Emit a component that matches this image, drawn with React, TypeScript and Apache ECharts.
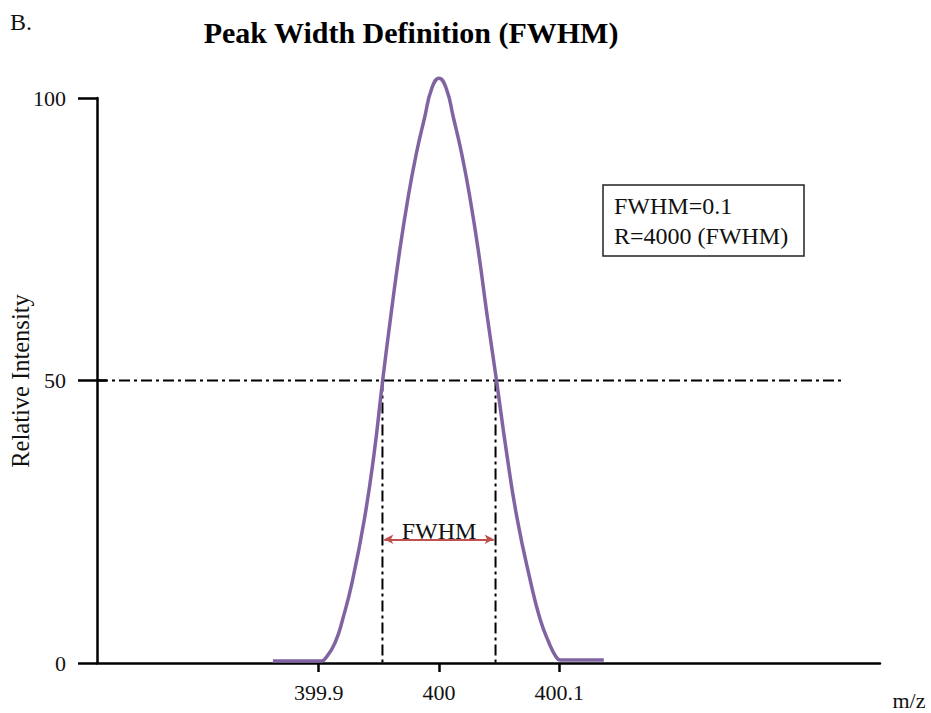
import React, { useEffect, useRef } from "react";
import * as echarts from "echarts";

// Peak profile (m/z, relative intensity)
const peakMz = [
  399.862, 399.901, 399.907, 399.914, 399.92, 399.928, 399.938, 399.946, 399.953, 399.96,
  399.967, 399.974, 399.981, 399.988, 399.994, 400.0, 400.006, 400.012, 400.019, 400.026,
  400.033, 400.04, 400.048, 400.056, 400.065, 400.076, 400.084, 400.091, 400.097, 400.101,
  400.137,
];
const peakIntensity = [
  0.35, 0.35, 1.2, 3.8, 7.8, 14.5, 25.5, 37.0, 49.7, 61.5,
  72.5, 82.0, 90.0, 96.5, 101.7, 103.5, 101.7, 96.5, 90.0, 82.0,
  72.5, 61.5, 49.7, 37.5, 25.5, 14.5, 7.8, 3.8, 1.2, 0.53,
  0.53,
];

const xTicks = [399.9, 400, 400.1];
const xTickLabels = ["399.9", "400", "400.1"];
const yTicks = [0, 50, 100];
const yTickLabels = ["0", "50", "100"];

const xMin = 399.7157;
const xMax = 400.3666;
const halfLevel = 50;
const halfLineEnd = 400.3375;
const fwhmLeft = 399.953;
const fwhmRight = 400.047;
const arrowLevel = 21.9;

const title = "Peak Width Definition (FWHM)";
const boxLines = ["FWHM=0.1", "R=4000 (FWHM)"];

const FONT = "'Liberation Serif', 'Times New Roman', serif";

export default function App() {
  const ref = useRef<HTMLDivElement>(null);
  useEffect(() => {
    if (!ref.current) return;
    const chart = echarts.init(ref.current, undefined, { renderer: "svg" });
    const dashDot = [11, 4, 3, 4];
    const fmt = (ticks: number[], labels: string[]) => (v: number) => {
      const i = ticks.findIndex((t) => Math.abs(t - v) < 1e-6);
      return i >= 0 ? labels[i] : "";
    };
    const option: any = {
      animation: false,
      backgroundColor: "#ffffff",
      textStyle: { fontFamily: FONT, color: "#000" },
      grid: { left: 97, right: 51, top: 98, bottom: 50, containLabel: false },
      xAxis: {
        type: "value",
        min: xMin,
        max: xMax,
        splitLine: { show: false },
        axisLine: { show: true, onZero: false, lineStyle: { color: "#000", width: 2.5 } },
        axisTick: {
          show: true,
          length: 9,
          lineStyle: { color: "#000", width: 2.5 },
          customValues: xTicks,
        },
        axisLabel: {
          show: true,
          margin: 18,
          fontSize: 22,
          fontFamily: FONT,
          color: "#111",
          customValues: xTicks,
          formatter: fmt(xTicks, xTickLabels),
        },
      },
      yAxis: [
        {
          type: "value",
          min: 0,
          max: 100,
          splitLine: { show: false },
          axisLine: { show: true, lineStyle: { color: "#000", width: 2.5 } },
          axisTick: {
            show: true,
            length: 19,
            lineStyle: { color: "#000", width: 2.5 },
            customValues: yTicks,
          },
          axisLabel: {
            show: true,
            margin: 31,
            fontSize: 22,
            fontFamily: FONT,
            color: "#111",
            customValues: yTicks,
            formatter: fmt(yTicks, yTickLabels),
          },
        },
        {
          type: "value",
          position: "left",
          offset: 0,
          min: 0,
          max: 100,
          splitLine: { show: false },
          axisLine: { show: true, lineStyle: { color: "#000", width: 2.5, opacity: 0 } },
          axisLabel: { show: false, customValues: [halfLevel] },
          axisTick: {
            show: true,
            inside: true,
            length: 10,
            lineStyle: { color: "#000", width: 2.5 },
            customValues: [halfLevel],
          },
        },
      ],
      series: [
        {
          type: "line",
          data: [
            [xMin, halfLevel],
            [halfLineEnd, halfLevel],
          ],
          showSymbol: false,
          lineStyle: { color: "#000", width: 2, type: dashDot },
          silent: true,
          z: 3,
        },
        {
          type: "line",
          data: [
            [fwhmLeft, halfLevel],
            [fwhmLeft, 0],
          ],
          showSymbol: false,
          lineStyle: { color: "#000", width: 2, type: dashDot },
          silent: true,
          z: 3,
        },
        {
          type: "line",
          data: [
            [fwhmRight, halfLevel],
            [fwhmRight, 0],
          ],
          showSymbol: false,
          lineStyle: { color: "#000", width: 2, type: dashDot },
          silent: true,
          z: 3,
          markLine: {
            silent: true,
            symbol: ["arrow", "arrow"],
            symbolSize: [7, 9],
            lineStyle: { color: "#c0504d", width: 2, type: "solid" },
            label: {
              show: true,
              formatter: "FWHM",
              position: "insideMiddleTop",
              distance: -4,
              fontSize: 24,
              fontFamily: FONT,
              color: "#111",
            },
            data: [
              [
                { coord: [fwhmLeft + 0.0015, arrowLevel] },
                { coord: [fwhmRight - 0.0015, arrowLevel] },
              ],
            ],
          },
        },
        {
          type: "line",
          data: peakMz.map((x, i) => [x, peakIntensity[i]]),
          showSymbol: false,
          smooth: 0.5,
          clip: false,
          lineStyle: { color: "#8064a2", width: 3.5 },
          z: 4,
        },
      ],
      graphic: [
        {
          type: "text",
          left: 10,
          top: 10,
          style: { text: "B.", font: `24px ${FONT}`, fill: "#111" },
        },
        {
          type: "text",
          x: 411,
          y: 32,
          style: {
            text: title,
            font: `bold 30px ${FONT}`,
            fill: "#000",
            align: "center",
            verticalAlign: "middle",
          },
        },
        {
          type: "text",
          x: 20,
          y: 381,
          rotation: Math.PI / 2,
          style: {
            text: "Relative Intensity",
            font: `24.5px ${FONT}`,
            fill: "#111",
            align: "center",
            verticalAlign: "middle",
          },
        },
        {
          type: "text",
          x: 909,
          y: 700,
          style: {
            text: "m/z",
            font: `22px ${FONT}`,
            fill: "#111",
            align: "center",
            verticalAlign: "middle",
          },
        },
        {
          type: "rect",
          shape: { x: 603, y: 185, width: 201, height: 71 },
          style: { fill: "#fff", stroke: "#222", lineWidth: 1.5 },
          z: 10,
        },
        {
          type: "text",
          x: 614,
          y: 221,
          z: 11,
          style: {
            text: boxLines.join("\n"),
            font: `24px ${FONT}`,
            lineHeight: 30,
            fill: "#111",
            align: "left",
            verticalAlign: "middle",
          },
        },
      ],
    };
    chart.setOption(option);
    return () => chart.dispose();
  }, []);
  return (
    <div
      ref={ref}
      style={{ position: "fixed", left: 0, top: 0, width: 931, height: 713, background: "#fff" }}
    />
  );
}
